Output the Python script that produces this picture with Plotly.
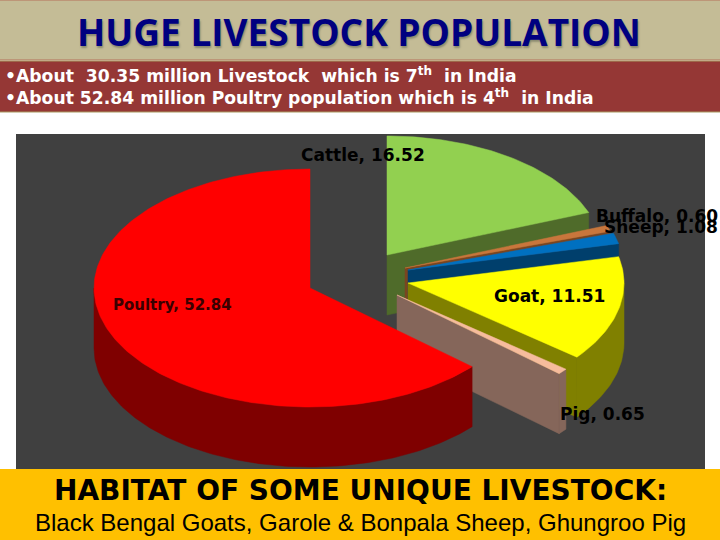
import math
import plotly.graph_objects as go

categories = ["Cattle", "Buffalo", "Sheep", "Goat", "Pig", "Poultry"]
values = [16.52, 0.60, 1.08, 11.51, 0.65, 52.84]

top_colors = ["#92D050", "#C8763C", "#0070C0", "#FFFF00", "#F6BC9C", "#FF0000"]
side_colors = ["#4F6B2A", "#7A4520", "#003F6C", "#808000", "#85665A", "#7F0000"]

# Exploded pie: where each slice's tip sits, and the shape of the tilted pie.
TIPS = [(387, 255), (405, 268), (408, 270), (408, 283), (397, 295), (310, 288)]
RX, RY, DEPTH = 216, 119, 60

LABEL_POS = [(363, 155), (657, 216), (661, 227), (549, 296), (602, 414), (172, 305)]
LABEL_SIZE = [17, 17, 17, 17, 17, 15]
LABEL_COLOR = ["#000000", "#000000", "#000000", "#000000", "#000000", "#3A0000"]


def rim(tip, deg, drop=0):
    if 0 < deg < 90:
        deg -= 4 * math.sin(math.radians(2 * deg))
    t = math.radians(deg)
    return tip[0] + RX * math.sin(t), tip[1] - RY * math.cos(t) + drop


def arc(tip, a, b, drop=0):
    n = max(2, int(abs(b - a)) + 1)
    return [rim(tip, a + (b - a) * i / (n - 1), drop) for i in range(n)]


def poly(points, color):
    xs = [p[0] for p in points] + [points[0][0]]
    ys = [p[1] for p in points] + [points[0][1]]
    return go.Scatter(x=xs, y=ys, mode="lines", fill="toself", fillcolor=color,
                      line=dict(color=color, width=0.5), hoverinfo="skip", showlegend=False)


fig = go.Figure()
total = sum(values)
angle = 0.0
for name, v, tip, top, side in zip(categories, values, TIPS, top_colors, side_colors):
    start, end = angle, angle + 360 * v / total
    angle = end
    # rim wall, only the part that faces the viewer
    a, b = max(start, 90), min(end, 270)
    if name != "Poultry":
        e = rim(tip, end)
        fig.add_trace(poly([tip, e, (e[0], e[1] + DEPTH), (tip[0], tip[1] + DEPTH)], side))
    if b > a:
        fig.add_trace(poly(arc(tip, a, b) + arc(tip, b, a, DEPTH), side))
    fig.add_trace(poly([tip] + arc(tip, start, end), top))

shapes = [
    dict(type="rect", x0=16, x1=705, y0=134, y1=469, fillcolor="#404040", line_width=0, layer="below"),
    dict(type="rect", x0=-2, x1=722, y0=0, y1=60, fillcolor="#C4BC96", line=dict(color="#B5705A", width=1), layer="below"),
    dict(type="rect", x0=-2, x1=722, y0=61, y1=112, fillcolor="#953735", line=dict(color="#A89A60", width=1), layer="below"),
    dict(type="rect", x0=0, x1=720, y0=469, y1=540, fillcolor="#FFC000", line_width=0, layer="above"),
]

BOLD = "Liberation Sans"
annotations = []


def note(x, y, text, size, color="#000000", family=BOLD, weight=700, anchor="center", shadow=None):
    annotations.append(dict(x=x, y=y, text=text, showarrow=False, xanchor=anchor, yanchor="middle",
                            font=dict(family=family, size=size, color=color, weight=weight,
                                      shadow=shadow or "none")))


for name, v, pos, size, color in zip(categories, values, LABEL_POS, LABEL_SIZE, LABEL_COLOR):
    note(pos[0], pos[1], f"{name}, {v:.2f}", size, color=color, family="DejaVu Sans")

note(359, 31, "HUGE LIVESTOCK POPULATION", 37, color="#000080", family="Open Sans",
     shadow="1px 2px 2px #8A8A70")
note(3, 75, "•About  30.35 million Livestock  which is 7<sup>th</sup>  in India", 17.2,
     color="#FFFFFF", family="DejaVu Sans", anchor="left")
note(3, 97, "•About 52.84 million Poultry population which is 4<sup>th</sup>  in India", 17.2,
     color="#FFFFFF", family="DejaVu Sans", anchor="left")
note(360, 490, "HABITAT OF SOME UNIQUE LIVESTOCK:", 28, family="DejaVu Sans")
note(360, 522, "Black Bengal Goats, Garole &amp; Bonpala Sheep, Ghungroo Pig", 24, weight=400)

fig.update_layout(
    width=720, height=540, margin=dict(l=0, r=0, t=0, b=0), showlegend=False,
    paper_bgcolor="#FFFFFF", plot_bgcolor="#FFFFFF",
    xaxis=dict(range=[0, 720], visible=False, fixedrange=True),
    yaxis=dict(range=[540, 0], visible=False, fixedrange=True),
    shapes=shapes, annotations=annotations,
)
fig.write_html("out.html", config={"displayModeBar": False},
               post_script="document.body.style.margin='0';document.body.style.overflow='hidden';")
